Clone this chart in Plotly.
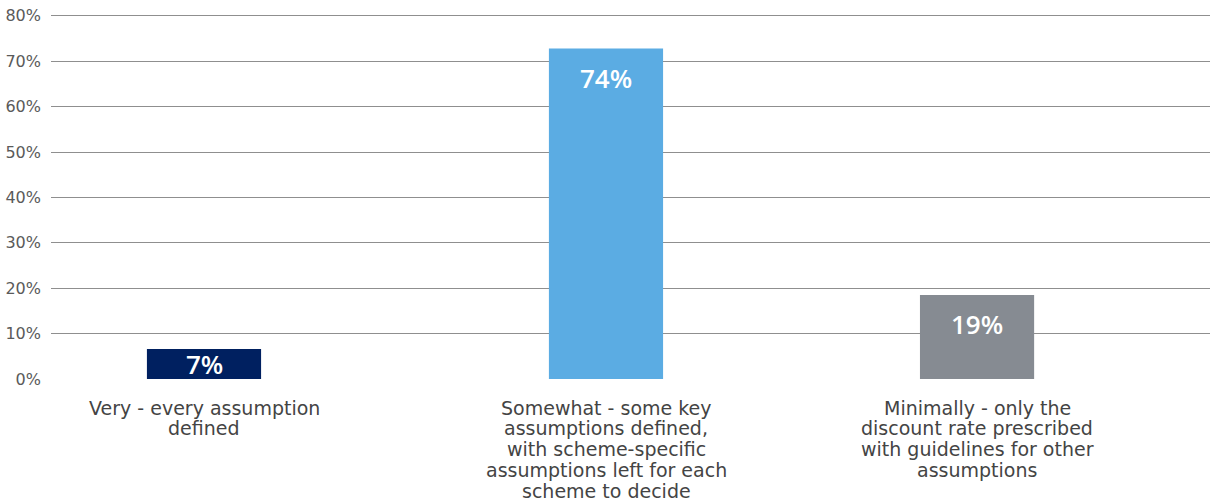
import plotly.graph_objects as go

# ---- data ----
categories = [
    "Very - every assumption<br>defined",
    "Somewhat - some key<br>assumptions defined,<br>with scheme-specific<br>assumptions left for each<br>scheme to decide",
    "Minimally - only the<br>discount rate prescribed<br>with guidelines for other<br>assumptions",
]
values = [6.6, 72.8, 18.5]          # bar heights (%) as drawn
labels = ["7%", "74%", "19%"]       # value labels shown on bars
y_ticks = [0, 10, 20, 30, 40, 50, 60, 70, 80]
y_tick_labels = ["0%", "10%", "20%", "30%", "40%", "50%", "60%", "70%", "80%"]

# ---- layout / style (positions kept separate from data) ----
x_pos = [0, 1, 1.923]
bar_width = 0.284
colors = ["#002060", "#5BACE3", "#868B92"]
FONT = "DejaVu Sans"
CAT_SIZE = 19
LINE_PITCH = 20.8
FIRST_LINE_SHIFT = 28.5

fig = go.Figure()
fig.add_trace(go.Bar(
    x=x_pos, y=values, width=bar_width,
    marker=dict(color=colors, line=dict(width=0)),
    hoverinfo="skip",
))

# value labels inside bars
label_offset = 6.4  # in axis units below bar top
for xp, v, lab in zip(x_pos, values, labels):
    fig.add_annotation(
        x=xp, y=max(v - label_offset, v / 2), text=lab,
        showarrow=False, xanchor="center", yanchor="middle",
        font=dict(family="Open Sans", size=26, color="white", weight=600),
    )

# category labels (one annotation per line to get tight line spacing)
for xp, cat in zip(x_pos, categories):
    for i, line in enumerate(cat.split("<br>")):
        fig.add_annotation(
            x=xp, xref="x", y=0, yref="paper", text=line,
            showarrow=False, xanchor="center", yanchor="middle",
            yshift=-(FIRST_LINE_SHIFT + LINE_PITCH * i),
            font=dict(family=FONT, size=CAT_SIZE, color="#444444"),
        )

fig.update_layout(
    width=1212, height=504,
    margin=dict(l=51, r=2, t=14.2, b=125),
    paper_bgcolor="white", plot_bgcolor="white",
    showlegend=False,
    font=dict(family=FONT, color="#555555"),
    xaxis=dict(
        range=[-0.3806, 2.5025],
        showticklabels=False,
        showgrid=False, zeroline=False, showline=False,
        ticks="", automargin=False,
    ),
    yaxis=dict(
        range=[0, 80.4],
        tickmode="array", tickvals=y_ticks, ticktext=y_tick_labels,
        showgrid=True, gridcolor="#8f8f8f", gridwidth=1,
        zeroline=False, showline=False,
        tickfont=dict(family=FONT, size=16, color="#5a5a5a"),
        ticks="", ticklabelstandoff=9, automargin=False,
    ),
)

fig.write_html(
    "out.html",
    config={"displayModeBar": False},
    post_script="document.body.style.margin='0';",
)
